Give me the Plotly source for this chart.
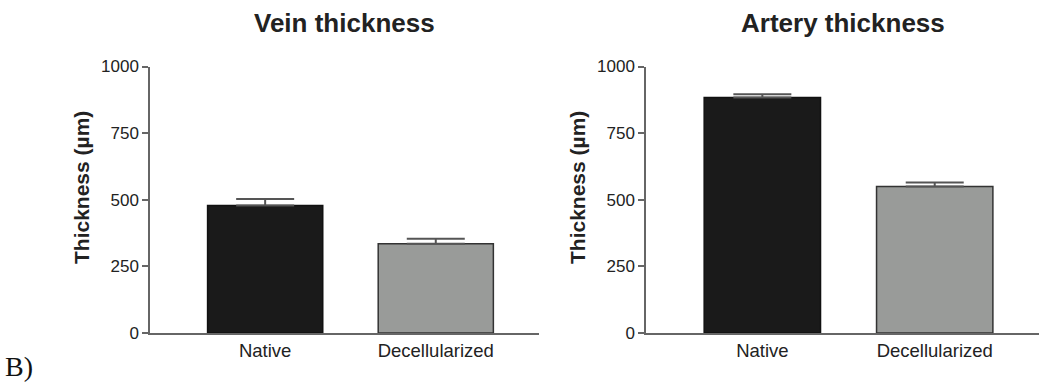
import plotly.graph_objects as go

categories = ["Native", "Decellularized"]
vein_mean = [478, 335]
vein_err = [25, 19]
artery_mean = [884, 550]
artery_err = [12, 15]
y_ticks = [0, 250, 500, 750, 1000]

W, H = 1039, 385
bar_fill = ["#1a1a1a", "#999b99"]
bar_line = ["#111111", "#333333"]
axis_col = "#666666"
txt_col = "#222222"
font_sans = "Arial, Liberation Sans, sans-serif"

fig = go.Figure()

panels = [
    ("x", "y", vein_mean, vein_err),
    ("x2", "y2", artery_mean, artery_err),
]
for xa, ya, mean, err in panels:
    fig.add_trace(go.Bar(
        x=categories, y=mean, xaxis=xa, yaxis=ya,
        width=0.675,
        marker=dict(color=bar_fill, line=dict(color=bar_line, width=1.5)),
        error_y=dict(type="data", array=err, arrayminus=[0] * len(err),
                     symmetric=False, color="#555555", thickness=2, width=29),
        showlegend=False,
    ))

def xaxis_cfg(domain):
    return dict(domain=domain, range=[-0.675, 1.605], type="category",
                showline=True, linecolor=axis_col, linewidth=1.5,
                ticks="", showgrid=False, zeroline=False, automargin=False,
                tickfont=dict(family=font_sans, size=18.5, color=txt_col),
                fixedrange=True)

def yaxis_cfg(anchor):
    return dict(domain=[52 / H, 318.5 / H], range=[0, 1000], anchor=anchor,
                tickvals=y_ticks, ticktext=[str(v) for v in y_ticks],
                showline=True, linecolor=axis_col, linewidth=1.5,
                ticks="outside", ticklen=6, tickwidth=1.5, tickcolor=axis_col,
                showgrid=False, zeroline=False, automargin=False,
                tickfont=dict(family=font_sans, size=17, color=txt_col),
                fixedrange=True)

fig.update_layout(
    width=W, height=H,
    margin=dict(l=0, r=0, t=0, b=0, pad=0, autoexpand=False),
    paper_bgcolor="white", plot_bgcolor="white",
    xaxis=dict(xaxis_cfg([150 / W, 539 / W]), anchor="y"),
    yaxis=yaxis_cfg("x"),
    xaxis2=dict(xaxis_cfg([646 / W, 1.0]), anchor="y2"),
    yaxis2=yaxis_cfg("x2"),
)

annotations = [
    dict(text="<b>Vein thickness</b>", x=(150 + 539) / 2 / W, y=(H - 23) / H,
         font=dict(family=font_sans, size=26, color=txt_col)),
    dict(text="<b>Artery thickness</b>", x=(646 + 1039) / 2 / W, y=(H - 23) / H,
         font=dict(family=font_sans, size=26, color=txt_col)),
    dict(text="<b>Thickness (µm)</b>", x=81 / W, y=(H - 188) / H, textangle=-90,
         font=dict(family=font_sans, size=21, color=txt_col)),
    dict(text="<b>Thickness (µm)</b>", x=577 / W, y=(H - 188) / H, textangle=-90,
         font=dict(family=font_sans, size=21, color=txt_col)),
    dict(text="B)", x=3 / W, y=(H - 366) / H, xanchor="left",
         font=dict(family="Times New Roman, Liberation Serif, serif", size=28, color="#111111")),
]
for a in annotations:
    a.setdefault("xanchor", "center")
    a.update(xref="paper", yref="paper", yanchor="middle", showarrow=False)
fig.update_layout(annotations=annotations)

fig.write_html("out.html", config={"displayModeBar": False},
               post_script="document.body.style.margin='0';document.body.style.overflow='hidden';")
